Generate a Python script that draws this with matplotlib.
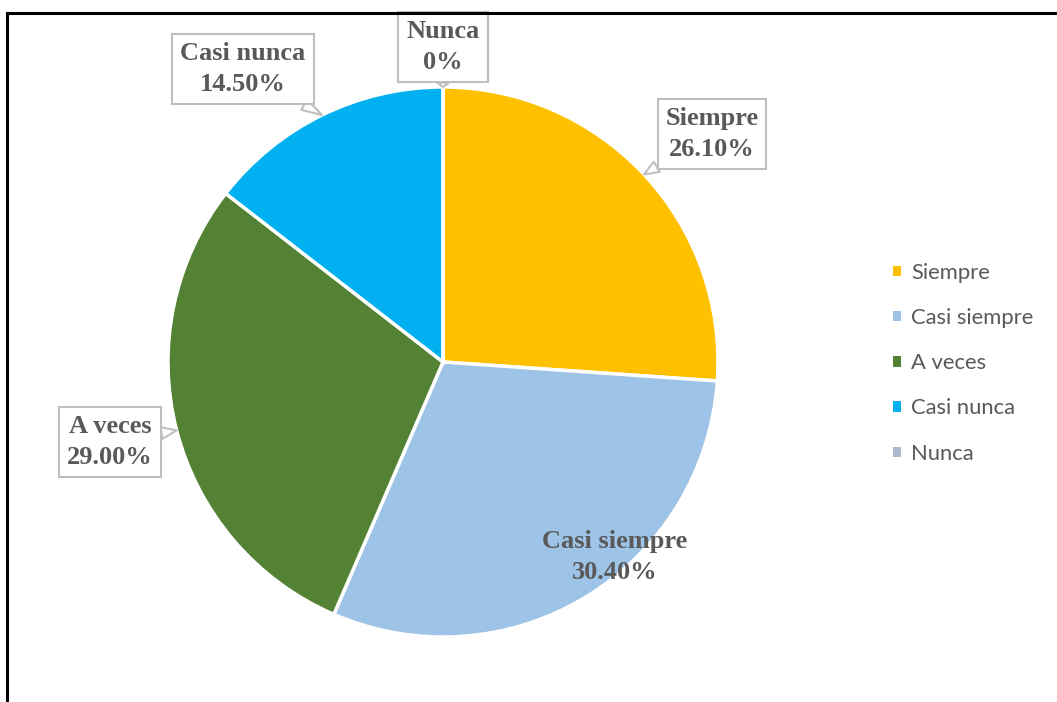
import matplotlib
matplotlib.use("Agg")
import matplotlib.pyplot as plt
from matplotlib.lines import Line2D
import numpy as np

categories = ["Siempre", "Casi siempre", "A veces", "Casi nunca", "Nunca"]
percentages = [26.1, 30.4, 29.0, 14.5, 0.0]
value_labels = ["26.10%", "30.40%", "29.00%", "14.50%", "0%"]
colors = ["#FFC000", "#9DC3E6", "#548235", "#00B0F0", "#ADB9CA"]

W, H = 1057, 702
fig = plt.figure(figsize=(W / 100, H / 100), dpi=100)
fig.patch.set_facecolor("white")

# pie centred at (443, 362) px with radius 275 px
cx, cy, r = 443, 362, 275
ax = fig.add_axes([(cx - r) / W, (H - cy - r) / H, 2 * r / W, 2 * r / H])
wedges, _ = ax.pie(percentages, colors=colors, startangle=90, counterclock=False,
                   radius=1.0,
                   wedgeprops=dict(edgecolor="white", linewidth=2.5))
ax.set_xlim(-1, 1)
ax.set_ylim(-1, 1)
ax.set_aspect("auto")
ax.axis("off")

label_font = dict(family="Liberation Serif", weight="bold", size=19, color="#595959")

# label anchor positions (pixel coordinates of text centre)
label_px = {
    "Siempre": (712, 134),
    "Casi siempre": (615, 557),
    "A veces": (110, 442),
    "Casi nunca": (243, 69),
    "Nunca": (443, 47),
}
callout = {"Siempre": True, "Casi siempre": False, "A veces": True,
           "Casi nunca": True, "Nunca": True}

total = sum(percentages)
start = 90.0
for cat, val, lab in zip(categories, percentages, value_labels):
    sweep = 360.0 * val / total
    mid = np.deg2rad(start - sweep / 2)
    start -= sweep
    px, py = label_px[cat]
    tx, ty = (px - cx) / r, (cy - py) / r
    text = f"{cat}\n{lab}"
    if callout[cat]:
        ex, ey = np.cos(mid), np.sin(mid)
        ax.annotate(text, xy=(ex, ey), xytext=(tx, ty), ha="center", va="center",
                    annotation_clip=False, linespacing=1.45,
                    bbox=dict(boxstyle="square,pad=0.3", fc="white", ec="#BFBFBF", lw=1.5),
                    arrowprops=dict(arrowstyle="wedge,tail_width=0.45,shrink_factor=0.5",
                                    fc="white", ec="#BFBFBF", lw=1.5,
                                    shrinkA=0, shrinkB=0),
                    **label_font)
    else:
        ax.text(tx, ty, text, ha="center", va="center", linespacing=1.45, **label_font)

leg = fig.legend(wedges, categories, loc="upper left",
                 bbox_to_anchor=(873 / W, 1 - 243 / H),
                 frameon=False, handlelength=0.37, handleheight=0.37,
                 handletextpad=0.48, labelspacing=1.15,
                 prop=dict(family="Lato", size=15.8))
for t in leg.get_texts():
    t.set_color("#595959")
for h in leg.legend_handles:
    h.set_edgecolor("none")

# outer border lines
fig.add_artist(Line2D([7 / W, 1.0], [1 - 13 / H, 1 - 13 / H], color="black", lw=2.2,
                      transform=fig.transFigure))
fig.add_artist(Line2D([7 / W, 7 / W], [0, 1 - 13 / H], color="black", lw=2.2,
                      transform=fig.transFigure))

fig.savefig("out.png", dpi=100, facecolor="white")
